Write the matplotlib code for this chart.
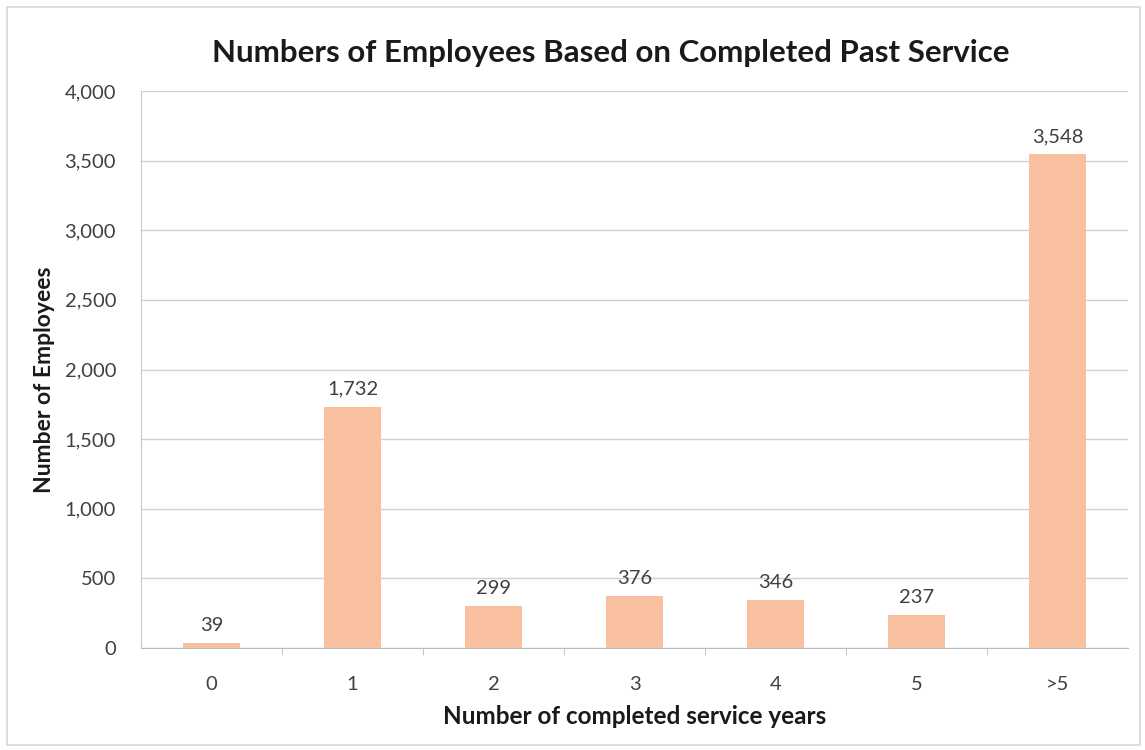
import matplotlib
matplotlib.use("Agg")
import matplotlib.pyplot as plt
from matplotlib.patches import Rectangle
from matplotlib.ticker import FuncFormatter
import numpy as np

plt.rcParams['font.family'] = ['Lato', 'DejaVu Sans']

# service years buckets and head counts
years = ['0', '1', '2', '3', '4', '5', '>5']
employees = [39, 1732, 299, 376, 346, 237, 3548]

bar_color = '#F8C09E'
text_color = '#404040'

W, H = 1145, 750
fig = plt.figure(figsize=(W / 100, H / 100), dpi=100)
ax = fig.add_axes([141 / W, 1 - 648 / H, 987 / W, (648 - 91) / H])

x = np.arange(len(years))
ax.bar(x, employees, width=0.4, color=bar_color, zorder=3)

for xi, v in zip(x, employees):
    ax.text(xi, v + 65, f'{v:,}', ha='center', va='bottom',
            fontsize=14.5, color=text_color)

ax.set_xlim(-0.5, len(years) - 0.5)
ax.set_ylim(0, 4000)
ax.set_yticks(np.arange(0, 4001, 500))
ax.yaxis.set_major_formatter(FuncFormatter(lambda v, p: f'{int(v):,}'))
ax.set_xticks(x)
ax.set_xticklabels(years)
ax.set_xticks(np.arange(0.5, len(years) - 1, 1), minor=True)

ax.grid(axis='y', color='#D0D0D0', linewidth=1, zorder=0)
for side in ['top', 'right']:
    ax.spines[side].set_visible(False)
ax.spines['left'].set_color('#C8C8C8')
ax.spines['bottom'].set_color('#B8BCC8')

ax.tick_params(axis='y', length=0, pad=18, labelsize=14.5, labelcolor=text_color)
ax.tick_params(axis='x', which='major', length=0, pad=20, labelsize=14.5, labelcolor=text_color)
ax.tick_params(axis='x', which='minor', length=5, color='#B8BCC8')

ax.set_xlabel('Number of completed service years', fontsize=17.5,
              fontweight='bold', color='#1a1a1a', labelpad=9)
ax.set_ylabel('Number of Employees', fontsize=16.5, fontweight='bold',
              color='#1a1a1a')
ax.yaxis.set_label_coords(-86 / 987, (648 - 380) / (648 - 91))

fig.text(611 / W, 1 - 53 / H, 'Numbers of Employees Based on Completed Past Service',
         ha='center', va='center', fontsize=22.5, fontweight='bold', color='#1a1a1a')

# outer chart frame
fig.patches.append(Rectangle((7 / W, 5 / H), 1133 / W, 738 / H,
                             transform=fig.transFigure, fill=False,
                             edgecolor='#D8D8D8', linewidth=1.2))

fig.savefig('out.png', dpi=100)
